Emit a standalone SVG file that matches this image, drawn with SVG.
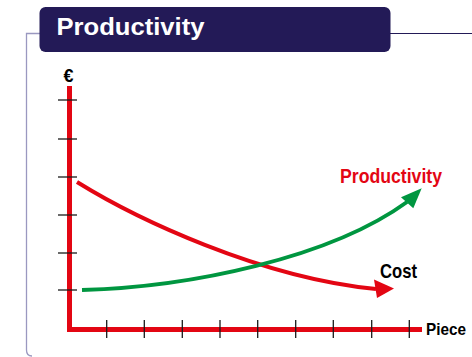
<svg xmlns="http://www.w3.org/2000/svg" width="472" height="357" viewBox="0 0 472 357">
<style>
.lbl{font-family:"Liberation Sans",Arial,sans-serif;font-weight:bold}
.tick{stroke:#1a1a1a;stroke-width:1.3}
.axis{stroke:#e30613;stroke-width:5;fill:none}
</style>
<rect width="472" height="357" fill="#ffffff"/>
<g id="frame">
<path d="M40,33.5 H26.5 V350 Q26.5,356 32,356" fill="none" stroke="#9a98c0" stroke-width="1.3"/>
<line x1="390" y1="33.5" x2="472" y2="33.5" stroke="#231a57" stroke-width="1.2"/>
</g>
<g id="title">
<rect x="39.5" y="7" width="351" height="45" rx="6" fill="#231a57"/>
<text class="lbl" x="56.5" y="35" font-size="24" fill="#ffffff" textLength="148" lengthAdjust="spacingAndGlyphs">Productivity</text>
</g>
<g id="axes">
<path class="axis" d="M69.5,86 V329.5 H422"/>
<g class="tick">
<line x1="58" y1="100" x2="77" y2="100"/>
<line x1="58" y1="139" x2="77" y2="139"/>
<line x1="58" y1="177" x2="77" y2="177"/>
<line x1="58" y1="215" x2="77" y2="215"/>
<line x1="58" y1="253" x2="77" y2="253"/>
<line x1="58" y1="290" x2="77" y2="290"/>
<line x1="106.7" y1="320" x2="106.7" y2="338"/>
<line x1="144.3" y1="320" x2="144.3" y2="338"/>
<line x1="182.3" y1="320" x2="182.3" y2="338"/>
<line x1="220" y1="320" x2="220" y2="338"/>
<line x1="257.7" y1="320" x2="257.7" y2="338"/>
<line x1="295.7" y1="320" x2="295.7" y2="338"/>
<line x1="333.3" y1="320" x2="333.3" y2="338"/>
<line x1="371.7" y1="320" x2="371.7" y2="338"/>
<line x1="409.3" y1="320" x2="409.3" y2="338"/>
</g>
<text class="lbl" x="68.5" y="82" font-size="18" text-anchor="middle" fill="#000">€</text>
<text class="lbl" x="426" y="335" font-size="17" fill="#000" textLength="40" lengthAdjust="spacingAndGlyphs">Piece</text>
</g>
<g id="connectors">
<path id="cost-curve" d="M77,182 C135,218 260,278 376,289" fill="none" stroke="#e30613" stroke-width="4"/>
<polygon points="394,288.5 374,279.5 377,298" fill="#e30613"/>
<path id="prod-curve" d="M82,290 C190,287 330,258 407,202" fill="none" stroke="#009640" stroke-width="4"/>
<polygon points="421.7,188.3 401,197.3 413.3,208.3" fill="#009640"/>
</g>
<g id="label-productivity">
<text class="lbl" x="340" y="183" font-size="21" fill="#e30613" textLength="102" lengthAdjust="spacingAndGlyphs">Productivity</text>
</g>
<g id="label-cost">
<text class="lbl" x="380" y="278" font-size="21" fill="#000" textLength="37" lengthAdjust="spacingAndGlyphs">Cost</text>
</g>
</svg>
